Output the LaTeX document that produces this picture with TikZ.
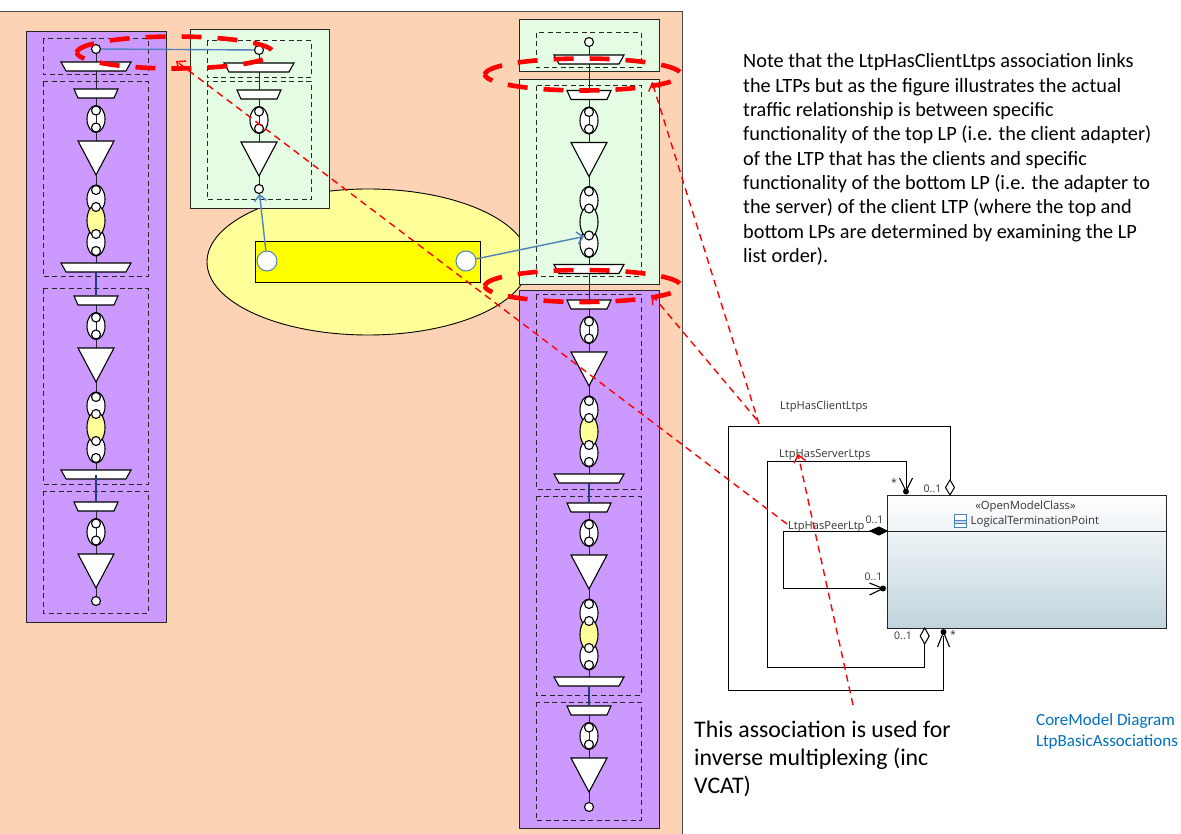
\documentclass[tikz,border=0pt]{standalone}
\usepackage{fontspec}
\setmainfont{Carlito}
\newfontfamily\umlfont{Open Sans}
\usetikzlibrary{arrows.meta,shapes.geometric}
\definecolor{peach}{HTML}{FCD3B5}
\definecolor{lpurple}{HTML}{CC99FF}
\definecolor{lgreen}{HTML}{E3FCE3}
\definecolor{pale}{HTML}{FFFF99}
\definecolor{brightyellow}{HTML}{FFFF00}
\definecolor{flow}{HTML}{4F81BD}
\definecolor{navyline}{HTML}{1F3F7F}
\definecolor{notelink}{HTML}{0070C0}
\definecolor{redmark}{HTML}{FF0000}
\definecolor{classbottom}{HTML}{C0D4DC}
\tikzset{
  panel/.style={draw=black!85,line width=1pt},
  group/.style={draw=black!85,line width=1pt,dash pattern=on 5pt off 3.5pt},
  part/.style={draw=black,line width=1.1pt,fill=white},
  wire/.style={draw=black!85,line width=1pt},
  navywire/.style={draw=navyline,line width=1.1pt},
  port/.style={circle,draw=black,line width=1.1pt,fill=white,inner sep=0pt,minimum size=9pt},
  bigport/.style={circle,draw=flow,line width=1pt,fill=white,inner sep=0pt,minimum size=20pt},
  flowline/.style={draw=flow,line width=1.4pt},
  flowarrow/.style={flowline,-{Straight Barb[length=6pt,width=12pt]}},
  ring/.style={draw=redmark,line width=4.6pt,rotate=180,inner sep=0pt,minimum width=196pt,minimum height=32pt,dash pattern=on 20pt off 16pt,dash phase=10pt},
  pointer/.style={draw=redmark,line width=1.4pt,dash pattern=on 7pt off 5pt,-{Straight Barb[length=7pt,width=12pt]}},
  assoc/.style={draw=black,line width=1pt},
  umllabel/.style={font=\umlfont\fontsize{11.1}{13}\selectfont,text=black!80,inner sep=0pt,anchor=west},
  multlabel/.style={font=\umlfont\fontsize{10.5}{12}\selectfont,text=black!80,inner sep=0pt,anchor=west},
  notetext/.style={inner sep=0pt,anchor=north west,align=left},
}
\newcommand{\narrowtrap}[2]{\draw[part] (#1-22,#2) -- (#1+22,#2) -- (#1+18,#2+9) -- (#1-18,#2+9) -- cycle;}
\newcommand{\widetrap}[2]{\draw[part] (#1-35,#2) -- (#1+35,#2) -- (#1+30,#2+9) -- (#1-30,#2+9) -- cycle;}
\newcommand{\ovalpair}[3]{%
  \draw[part] (#2,#3) ellipse [x radius=9,y radius=13.5];
  \draw[wire] (#2,#3-8) -- (#2,#3+8);
  \node[port] (#1u) at (#2,#3-8.5) {};
  \node[port] (#1d) at (#2,#3+8.5) {};}
\newcommand{\tri}[2]{\draw[part] (#1-18,#2) -- (#1+18,#2) -- (#1,#2+34) -- cycle;}
\newcommand{\ovaltriple}[4]{%
  \draw[part] (#2,#3+14) ellipse [x radius=9,y radius=14];
  \draw[part] (#2,#3+57) ellipse [x radius=9,y radius=14];
  \draw[draw=black,line width=1.1pt,fill=#4] (#2,#3+35.5) ellipse [x radius=9,y radius=16];
  \node[port] (#1a) at (#2,#3+5) {};
  \node[port] (#1b) at (#2,#3+22) {};
  \node[port] (#1c) at (#2,#3+49) {};
  \node[port] (#1e) at (#2,#3+66) {};}
\newcommand{\fullblock}[4]{%
  \narrowtrap{#2}{#3}
  \ovalpair{#1o}{#2}{#3+30}
  \tri{#2}{#3+52}
  \ovaltriple{#1t}{#2}{#3+96}{#4}
  \widetrap{#2}{#3+174}}
\newcommand{\shortblock}[3]{%
  \narrowtrap{#2}{#3}
  \ovalpair{#1o}{#2}{#3+30}
  \tri{#2}{#3+52}}
\begin{document}
\begin{tikzpicture}[x=1pt,y=-1pt]
\useasboundingbox (0,0) rectangle (1181,834);
\fill[white] (0,0) rectangle (1181,834);
\draw[draw=black!70,line width=0.9pt,fill=peach] (-3,11) rectangle (682,840);
\node[ellipse,draw=black,line width=0.9pt,fill=pale,inner sep=0pt,minimum width=322pt,minimum height=146pt] (fwd) at (368,262) {};
\draw[panel,fill=lpurple] (26,32) rectangle (166,622);
\draw[panel,fill=lgreen] (190,30) rectangle (329,209);
\draw[panel,fill=lgreen] (519,20) rectangle (659,72);
\draw[panel,fill=lgreen] (519,80) rectangle (659,285);
\draw[panel,fill=lpurple] (519,291) rectangle (659,828);
\draw[group] (43,39) rectangle (148,75);
\draw[group] (43,82) rectangle (148,277);
\draw[group] (43,289) rectangle (148,484);
\draw[group] (43,491) rectangle (148,613);
\draw[group] (207,41) rectangle (311,78);
\draw[group] (207,82) rectangle (311,200);
\draw[group] (536,33) rectangle (641,68);
\draw[group] (536,86) rectangle (641,277);
\draw[group] (536,295) rectangle (641,489);
\draw[group] (536,496) rectangle (641,695);
\draw[group] (536,702) rectangle (641,820);
\coordinate (spineA) at (96,49); \coordinate (spineAend) at (96,601);
\coordinate (spineB) at (259,50); \coordinate (spineBend) at (259,189);
\coordinate (spineC) at (589,42); \coordinate (spineCend) at (589,807);
\draw[wire] (spineA) -- (spineAend);
\draw[wire] (spineB) -- (spineBend);
\draw[wire] (spineC) -- (spineCend);
\widetrap{96}{62}
\fullblock{a1}{96}{89}{pale}
\fullblock{a2}{96}{296}{pale}
\shortblock{a3}{96}{502}
\coordinate (an1) at (96,272); \coordinate (an2) at (96,296);
\coordinate (an3) at (96,475); \coordinate (an4) at (96,502);
\draw[navywire] (an1) -- (an2);
\draw[navywire] (an3) -- (an4);
\node[port] (aTop) at (spineA) {};
\node[port] (aBot) at (spineAend) {};
\widetrap{259}{63}
\shortblock{b1}{259}{90}
\node[port] (bTop) at (spineB) {};
\node[port] (bBot) at (spineBend) {};
\widetrap{589}{55}
\fullblock{c1}{589}{90.5}{lgreen}
\fullblock{c2}{589}{300}{pale}
\fullblock{c3}{589}{503}{pale}
\shortblock{c4}{589}{706}
\coordinate (cn1) at (589,484); \coordinate (cn2) at (589,503);
\coordinate (cn3) at (589,686); \coordinate (cn4) at (589,706);
\draw[navywire] (cn1) -- (cn2);
\draw[navywire] (cn3) -- (cn4);
\node[port] (cTop) at (spineC) {};
\node[port] (cBot) at (spineCend) {};
\node[draw=black,line width=0.9pt,fill=brightyellow,inner sep=0pt,minimum width=225pt,minimum height=41pt] (fc) at (367.5,261.5) {};
\node[bigport] (epL) at (267,261) {};
\node[bigport] (epR) at (466,261) {};
\draw[flowarrow] (epL) -- (bBot);
\draw[flowarrow] (epR) -- (c1tc);
\draw[flowline] (aTop) -- (bTop);
\node[draw=black!85,line width=1pt,shade,top color=white,bottom color=classbottom,inner sep=0pt,minimum width=279pt,minimum height=133pt,anchor=north west] (ltp) at (887,495) {};
\coordinate (divL) at (887,531); \coordinate (divR) at (1166,531);
\draw[draw=black!85,line width=0.9pt] (divL) -- (divR);
\node[font=\umlfont\fontsize{11.3}{13}\selectfont,text=black!80,inner sep=0pt] (stereo) at (1025.5,507) {«OpenModelClass»};
\node[font=\umlfont\fontsize{11.4}{13}\selectfont,text=black!80,inner sep=0pt,anchor=west] (ltpname) at (970.5,522) {LogicalTerminationPoint};
\draw[draw=flow,line width=0.8pt,fill=white] (954,514) rectangle (966,527);
\draw[draw=flow,line width=0.7pt,fill=flow!30] (954,520) rectangle (966,523.5);
\draw[draw=flow,line width=0.7pt] (954,523.5) -- (966,523.5);
\coordinate (clTop) at (950,480); \coordinate (clTail) at (943.5,636);
\coordinate (svTop) at (906,488); \coordinate (svTail) at (924.7,644);
\coordinate (prTop) at (870,531); \coordinate (prTail) at (882,588.5);
\draw[assoc] (clTop) -- (950,426.7) -- (728,426.7) -- (728,690.7) -- (943.5,690.7) -- (clTail);
\draw[assoc] (svTop) -- (906,461) -- (767.5,461) -- (767.5,667) -- (924.7,667) -- (svTail);
\draw[assoc] (prTop) -- (783,531) -- (783,588.5) -- (prTail);
\draw[assoc,fill=white] (950,480) -- (954.5,487.5) -- (950,495) -- (945.5,487.5) -- cycle;
\draw[assoc,fill=white] (924.7,628) -- (929.2,636) -- (924.7,644) -- (920.2,636) -- cycle;
\draw[assoc,fill=black] (870,531) -- (879,527) -- (887,531) -- (879,535) -- cycle;
\draw[line width=1.1pt] (899.5,478) -- (906,491) -- (912.5,478);
\fill (906,491.5) circle (3);
\draw[line width=1.1pt] (869.5,583) -- (883,588.5) -- (869.5,595);
\fill (883,588.5) circle (3);
\draw[line width=1.1pt] (937.5,647) -- (943.5,632) -- (949.5,647);
\fill (943.5,632) circle (3);
\node[umllabel] (lClient) at (780,406.5) {LtpHasClientLtps};
\node[umllabel] (lServer) at (779,454.5) {LtpHasServerLtps};
\node[umllabel] (lPeer) at (788,526.5) {LtpHasPeerLtp};
\node[multlabel] (m1) at (923.5,489) {0..1};
\node[multlabel] (m2) at (865.5,520) {0..1};
\node[multlabel] (m3) at (864.5,577) {0..1};
\node[multlabel] (m4) at (894,636) {0..1};
\node[multlabel] (m5) at (891,482.5) {*};
\node[multlabel] (m6) at (950,635) {*};
\node[ellipse,ring] (ringA) at (175,52.5) {};
\node[ellipse,ring] (ringB) at (583,74.5) {};
\node[ellipse,ring] (ringC) at (583,286) {};
\coordinate (fromClient) at (759,424);
\coordinate (fromClient2) at (757,420);
\coordinate (tipB) at (652,82);
\coordinate (tipC) at (652,295);
\coordinate (fromPeer) at (787,524);
\coordinate (tipA) at (176,61);
\coordinate (fromVcat) at (853,705);
\coordinate (tipS) at (798,454);
\draw[pointer] (fromClient) -- (tipB);
\draw[pointer] (fromClient2) -- (tipC);
\draw[pointer] (fromPeer) -- (tipA);
\draw[pointer] (fromVcat) -- (tipS);
\node[notetext,font=\fontsize{20.3}{24.35}\selectfont] (note) at (743,53.5) {Note that the LtpHasClientLtps association links\\the LTPs but as the figure illustrates the actual\\traffic relationship is between specific\\functionality of the top LP (i.e. the client adapter)\\of the LTP that has the clients and specific\\functionality of the bottom LP (i.e. the adapter to\\the server) of the client LTP (where the top and\\bottom LPs are determined by examining the LP\\list order).};
\node[notetext,font=\fontsize{23.8}{28}\selectfont] (vcat) at (694,721) {This association is used for\\inverse multiplexing (inc\\VCAT)};
\node[notetext,font=\fontsize{17}{21}\selectfont,text=notelink] (diag) at (1036,713) {CoreModel Diagram\\LtpBasicAssociations};
\end{tikzpicture}
\end{document}
